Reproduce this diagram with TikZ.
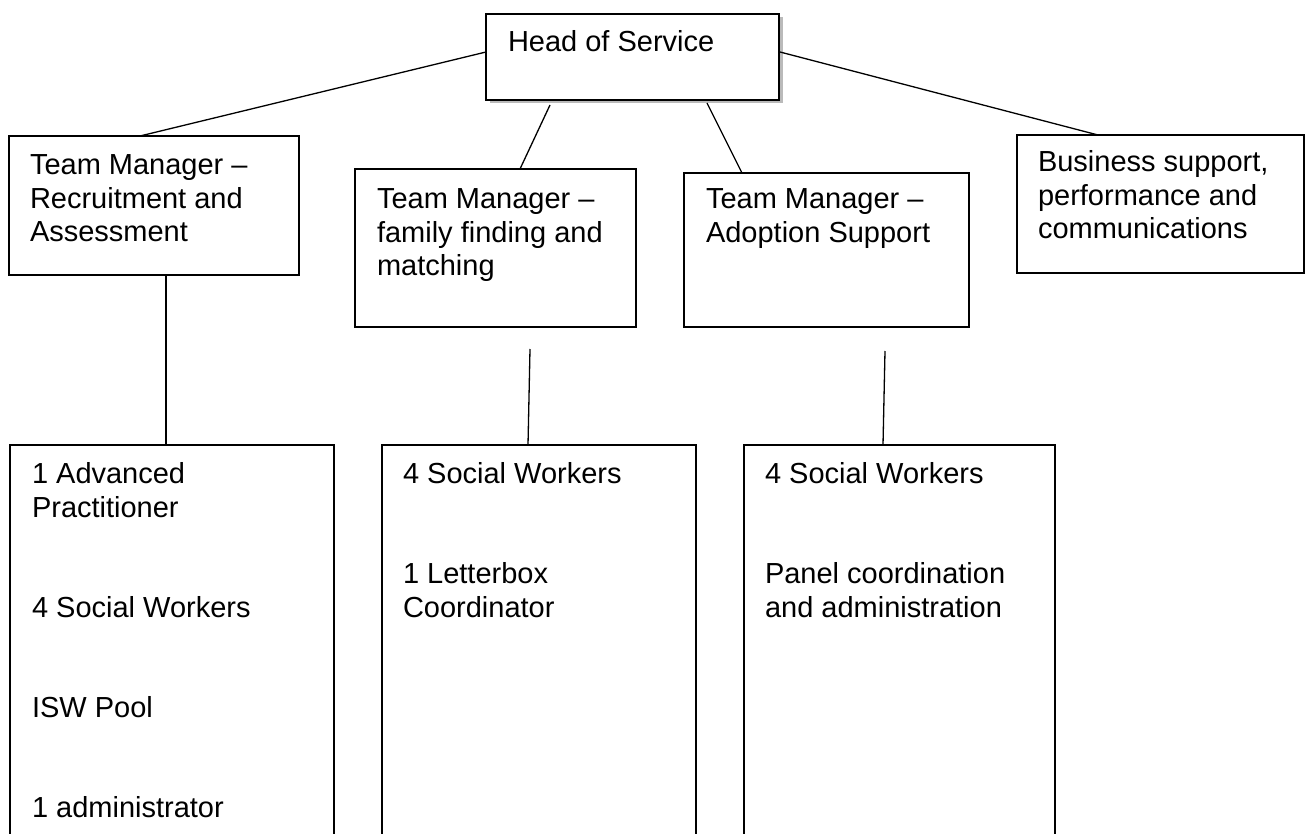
\documentclass[tikz,border=0pt]{standalone}
\usepackage{fontspec}
\setmainfont{Liberation Sans}
\usetikzlibrary{shadows,calc}
\tikzset{
  box/.style={draw=black, line width=1.4pt, fill=white, anchor=north west, inner sep=0pt, outer sep=0pt},
  lbl/.style={anchor=base west, inner sep=0pt, outer sep=0pt, font=\fontsize{29}{33.5}\selectfont},
  conn/.style={draw=black, line width=1.3pt},
}
\begin{document}
\begin{tikzpicture}[x=1pt,y=-1pt]
\clip (0,0) rectangle (1309,834);
\fill[white] (0,0) rectangle (1309,834);

% boxes
\node[box, line width=2.4pt, drop shadow={shadow xshift=3.5pt, shadow yshift=-3.5pt, opacity=0.45, fill=black!60},
      minimum width=293, minimum height=86] (hos) at (486,14) {};
\node[box, minimum width=290, minimum height=139] (tm1) at (9,136) {};
\node[box, minimum width=281, minimum height=158] (tm2) at (355,169) {};
\node[box, minimum width=285, minimum height=154] (tm3) at (684,173) {};
\node[box, minimum width=287, minimum height=138] (biz) at (1017,135) {};
\node[box, minimum width=324, minimum height=420] (ba) at (10,445) {};
\node[box, minimum width=314, minimum height=420] (bb) at (382,445) {};
\node[box, minimum width=311, minimum height=420] (bc) at (744,445) {};

% connectors
\draw[conn] ($(hos.north west)+(0,38)$) -- ($(tm1.north west)+(131,0)$);
\draw[conn] ($(hos.south west)+(64,5)$) -- ($(tm2.north west)+(165,0)$);
\draw[conn] ($(hos.south west)+(221,3)$) -- ($(tm3.north west)+(58,0)$);
\draw[conn] ($(hos.north east)+(1,38)$) -- ($(biz.north west)+(81,0)$);
\draw[conn] ($(tm1.south west)+(157,0)$) -- ($(ba.north west)+(156,0)$);
\draw[conn] ($(tm2.south west)+(175,22)$) -- ($(bb.north west)+(146,0)$);
\draw[conn] ($(tm3.south west)+(201,24)$) -- ($(bc.north west)+(139,0)$);

% texts
\node[lbl] (t0) at (508,52) {Head of Service};

\node[lbl] (t1a) at (30,175) {Team Manager –};
\node[lbl] (t1b) at (30,208.5) {Recruitment and};
\node[lbl] (t1c) at (30,242) {Assessment};

\node[lbl] (t2a) at (377,209) {Team Manager –};
\node[lbl] (t2b) at (377,242.5) {family finding and};
\node[lbl] (t2c) at (377,276) {matching};

\node[lbl] (t3a) at (706,209) {Team Manager –};
\node[lbl] (t3b) at (706,242.5) {Adoption Support};

\node[lbl] (t4a) at (1038,172) {Business support,};
\node[lbl] (t4b) at (1038,205.5) {performance and};
\node[lbl] (t4c) at (1038,239) {communications};

\node[lbl] (a1) at (32,483) {1 Advanced};
\node[lbl] (a2) at (32,517) {Practitioner};
\node[lbl] (a3) at (32,617) {4 Social Workers};
\node[lbl] (a4) at (32,717) {ISW Pool};
\node[lbl] (a5) at (32,817) {1 administrator};

\node[lbl] (b1) at (403,483) {4 Social Workers};
\node[lbl] (b2) at (403,583.5) {1 Letterbox};
\node[lbl] (b3) at (403,617) {Coordinator};

\node[lbl] (c1) at (765,483) {4 Social Workers};
\node[lbl] (c2) at (765,583.5) {Panel coordination};
\node[lbl] (c3) at (765,617) {and administration};
\end{tikzpicture}
\end{document}
